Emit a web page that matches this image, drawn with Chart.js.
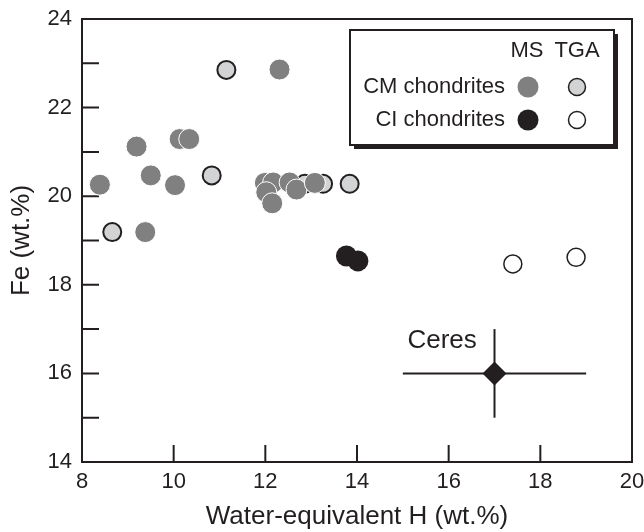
<!DOCTYPE html>
<html lang="en">
<head>
    <meta charset="UTF-8">
    <title>Fe vs water-equivalent H</title>
    <script src="https://cdn.jsdelivr.net/npm/chart.js"></script>
    <style>
        html, body { margin: 0; padding: 0; background: #fff; }
    </style>
</head>
<body>
    <canvas id="feChart" width="644" height="532"></canvas>

    <script>
        // CM chondrites, mass spectrometry (grey dots)
        const cmMsH  = [12.31, 9.19, 10.13, 10.34, 8.39, 9.50, 10.03, 9.38, 11.99, 12.17, 12.02, 12.15, 12.53, 12.68, 13.08];
        const cmMsFe = [22.86, 21.12, 21.29, 21.29, 20.26, 20.47, 20.25, 19.19, 20.30, 20.31, 20.09, 19.84, 20.31, 20.15, 20.30];

        // CM chondrites, TGA (light dots with outline)
        const cmTgaH  = [11.15, 10.83, 8.66, 12.86, 13.26, 13.84];
        const cmTgaFe = [22.85, 20.47, 19.19, 20.28, 20.28, 20.28];

        // CI chondrites
        const ciMsH   = [13.77, 14.02];
        const ciMsFe  = [18.65, 18.54];
        const ciTgaH  = [17.40, 18.78];
        const ciTgaFe = [18.47, 18.62];

        // Ceres estimate with error bars
        const ceresH = 17, ceresFe = 16;
        const ceresHErr = 2, ceresFeErr = 1;

        const xTicks = [8, 10, 12, 14, 16, 18, 20];
        const yTicks = [14, 16, 18, 20, 22, 24];

        const ink = '#231f20';
        Chart.defaults.font.family = "'Liberation Sans', Arial, sans-serif";
        Chart.defaults.color = ink;

        const pts = (xs, ys) => xs.map((x, i) => ({ x: x, y: ys[i] }));

        // axis box, inward ticks, legend and the Ceres label
        const frame = {
            id: 'frame',
            beforeDatasetsDraw(chart) {
                const { ctx, chartArea: a, scales: { x, y } } = chart;
                ctx.save();
                ctx.strokeStyle = ink;
                ctx.lineWidth = 2;
                ctx.beginPath();
                for (let v = 15; v < 24; v++) {
                    const py = y.getPixelForValue(v);
                    ctx.moveTo(a.left, py);
                    ctx.lineTo(a.left + 17, py);
                }
                for (let v = 10; v < 20; v += 2) {
                    const px = x.getPixelForValue(v);
                    ctx.moveTo(px, a.bottom);
                    ctx.lineTo(px, a.bottom - 17);
                }
                ctx.stroke();
                ctx.strokeRect(a.left, a.top, a.right - a.left, a.bottom - a.top);
                ctx.restore();
            },
            afterDraw(chart) {
                const { ctx, scales: { x, y } } = chart;
                ctx.save();

                // Ceres label
                ctx.font = "26px 'Liberation Sans', Arial, sans-serif";
                ctx.fillStyle = ink;
                ctx.textAlign = 'left';
                ctx.textBaseline = 'middle';
                ctx.fillText('Ceres', x.getPixelForValue(15.1), y.getPixelForValue(16.73));

                // legend box with drop shadow
                ctx.fillStyle = ink;
                ctx.fillRect(354, 34, 264, 115);
                ctx.fillStyle = '#fff';
                ctx.fillRect(350, 30, 264, 115);
                ctx.strokeStyle = ink;
                ctx.lineWidth = 2;
                ctx.strokeRect(350, 30, 264, 115);

                ctx.fillStyle = ink;
                ctx.font = "22px 'Liberation Sans', Arial, sans-serif";
                ctx.textAlign = 'center';
                ctx.fillText('MS', 527, 51);
                ctx.fillText('TGA', 577, 51);
                ctx.textAlign = 'right';
                ctx.fillText('CM chondrites', 505, 87);
                ctx.fillText('CI chondrites', 505, 120);

                const dot = (cx, cy, r, fill, stroke, lw) => {
                    ctx.beginPath();
                    ctx.arc(cx, cy, r, 0, Math.PI * 2);
                    ctx.fillStyle = fill;
                    ctx.fill();
                    if (stroke) {
                        ctx.strokeStyle = stroke;
                        ctx.lineWidth = lw;
                        ctx.stroke();
                    }
                };
                dot(528, 87, 10.5, '#808080');
                dot(577, 87, 8.5, '#d1d3d4', ink, 1.5);
                dot(528, 120, 10.5, ink);
                dot(577, 120, 8.5, '#fff', ink, 1.5);
                ctx.restore();
            }
        };

        const scatter = (data, radius, fill, border, bw) => ({
            type: 'scatter',
            data: data,
            pointRadius: radius,
            pointHoverRadius: radius,
            pointBackgroundColor: fill,
            pointBorderColor: border,
            pointBorderWidth: bw
        });

        const errLine = (data) => ({
            type: 'line',
            data: data,
            borderColor: ink,
            borderWidth: 2,
            pointRadius: 0,
            showLine: true,
            fill: false
        });

        const fixScale = (w, h) => (scale) => {
            if (w) scale.width = w;
            if (h) scale.height = h;
            scale.paddingLeft = 0;
            scale.paddingRight = 0;
            scale.paddingTop = 0;
            scale.paddingBottom = 0;
        };

        // Chart.js paints the first dataset on top, so the list runs top to bottom
        new Chart(document.getElementById('feChart').getContext('2d'), {
            data: {
                datasets: [
                    Object.assign(scatter([{ x: ceresH, y: ceresFe }], 12, ink, ink, 0), { pointStyle: 'rectRot' }),
                    errLine([{ x: ceresH - ceresHErr, y: ceresFe }, { x: ceresH + ceresHErr, y: ceresFe }]),
                    errLine([{ x: ceresH, y: ceresFe - ceresFeErr }, { x: ceresH, y: ceresFe + ceresFeErr }]),
                    scatter(pts(ciTgaH, ciTgaFe), 9, '#ffffff', ink, 1.5),
                    scatter(pts(ciMsH, ciMsFe), 10.5, ink, ink, 0),
                    scatter(pts(cmMsH, cmMsFe), 10.5, '#808080', '#ffffff', 1),
                    scatter(pts(cmTgaH, cmTgaFe), 9, '#d1d3d4', ink, 2)
                ]
            },
            options: {
                responsive: false,
                animation: false,
                events: [],
                layout: { padding: { top: 19, right: 11, left: 0, bottom: 0 } },
                plugins: {
                    legend: { display: false },
                    tooltip: { enabled: false }
                },
                scales: {
                    x: {
                        type: 'linear',
                        min: 8,
                        max: 20,
                        afterFit: fixScale(0, 70),
                        afterBuildTicks: (s) => { s.ticks = xTicks.map(v => ({ value: v })); },
                        grid: { display: false, drawTicks: false },
                        border: { display: false },
                        ticks: { font: { size: 22 }, padding: 7, maxRotation: 0, autoSkip: false },
                        title: {
                            display: true,
                            text: 'Water-equivalent H (wt.%)',
                            font: { size: 26 },
                            padding: { top: 0, bottom: 0 }
                        }
                    },
                    y: {
                        type: 'linear',
                        min: 14,
                        max: 24,
                        afterFit: fixScale(82, 0),
                        afterBuildTicks: (s) => { s.ticks = yTicks.map(v => ({ value: v })); },
                        grid: { display: false, drawTicks: false },
                        border: { display: false },
                        ticks: { font: { size: 22 }, padding: 10, autoSkip: false },
                        title: {
                            display: true,
                            text: 'Fe (wt.%)',
                            font: { size: 26 },
                            padding: { top: 6, bottom: 0 }
                        }
                    }
                }
            },
            plugins: [frame]
        });
    </script>
</body>
</html>
